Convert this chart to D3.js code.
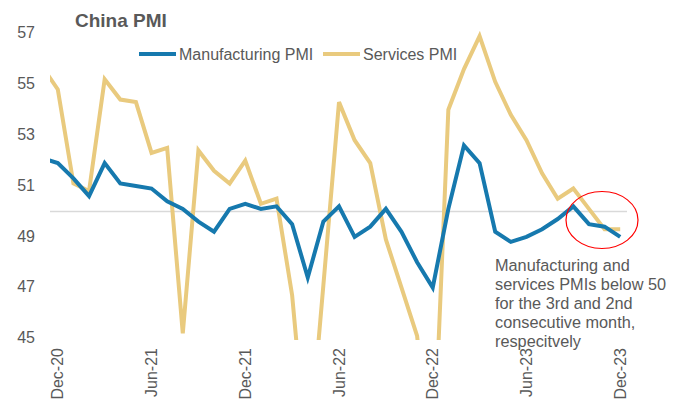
<!DOCTYPE html>
<html>
<head>
<meta charset="utf-8">
<script src="https://cdn.jsdelivr.net/npm/d3@7"></script>
<style>
  html, body { margin: 0; padding: 0; background: #fff; }
  svg { display: block; font-family: "Liberation Sans", Arial, sans-serif; }
</style>
</head>
<body>
<svg id="chart" width="683" height="402"></svg>
<script>
const months = ["Nov-20","Dec-20","Jan-21","Feb-21","Mar-21","Apr-21","May-21","Jun-21","Jul-21","Aug-21","Sep-21","Oct-21","Nov-21","Dec-21",
  "Jan-22","Feb-22","Mar-22","Apr-22","May-22","Jun-22","Jul-22","Aug-22","Sep-22","Oct-22","Nov-22","Dec-22",
  "Jan-23","Feb-23","Mar-23","Apr-23","May-23","Jun-23","Jul-23","Aug-23","Sep-23","Oct-23","Nov-23","Dec-23"];
const manufacturing = [52.1,51.9,51.3,50.6,51.9,51.1,51.0,50.9,50.4,50.1,49.6,49.2,50.1,50.3,
  50.1,50.2,49.5,47.4,49.6,50.2,49.0,49.4,50.1,49.2,48.0,47.0,
  50.1,52.6,51.9,49.2,48.8,49.0,49.3,49.7,50.2,49.5,49.4,49.0];
const services = [55.7,54.8,51.1,50.8,55.2,54.4,54.3,52.3,52.5,45.2,52.4,51.6,51.1,52.0,
  50.3,50.5,46.7,40.0,47.1,54.3,52.8,51.9,48.9,47.0,45.1,39.4,
  54.0,55.6,56.9,55.1,53.8,52.8,51.5,50.5,50.9,50.1,49.3,49.3];
const xTickLabels = ["Dec-20","Jun-21","Dec-21","Jun-22","Dec-22","Jun-23","Dec-23"];
const yTicks = [45,47,49,51,53,55,57];
const seriesNames = ["Manufacturing PMI","Services PMI"];
const seriesColors = ["#1679AE","#E9CA7E"];
const titleText = "China PMI";
const noteLines = ["Manufacturing and","services PMIs below 50","for the 3rd and 2nd","consecutive month,","respecitvely"];

(function () {
const svg = d3.select("#chart");
const pLeft = 50, pRight = 628, pTop = 33.5, pBottom = 338.5;
const x = d3.scaleLinear().domain([0.5, months.length - 0.5]).range([pLeft, pRight]);
const y = d3.scaleLinear().domain([45, 57]).range([pBottom, pTop]);
const txt = "#595959";

svg.append("defs").append("clipPath").attr("id","plotclip")
  .append("rect").attr("x", pLeft).attr("y", 0).attr("width", pRight - pLeft).attr("height", 340);

// 50 reference line
svg.append("line").attr("x1", pLeft).attr("x2", pRight - 1).attr("y1", y(50)).attr("y2", y(50))
  .attr("stroke", "#D9D9D9").attr("stroke-width", 1.5);

// y labels
svg.append("g").selectAll("text").data(yTicks).join("text")
  .attr("x", 35).attr("y", d => y(d)).attr("dy", "0.3em").attr("text-anchor", "end")
  .attr("font-size", 16).attr("fill", txt).text(d => d);

// x labels
svg.append("g").selectAll("text").data(xTickLabels).join("text")
  .attr("transform", d => `translate(${x(months.indexOf(d))},348) rotate(-90)`)
  .attr("dy", "0.35em").attr("text-anchor", "end")
  .attr("font-size", 16).attr("fill", txt).text(d => d);

// lines
const line = d3.line().x((d, i) => x(i)).y(d => y(d));
const plot = svg.append("g").attr("clip-path", "url(#plotclip)");
[services, manufacturing].forEach((s, k) => {
  const idx = k === 0 ? 1 : 0;
  plot.append("path").datum(s).attr("d", line).attr("fill", "none")
    .attr("stroke", seriesColors[idx]).attr("stroke-width", 4)
    .attr("stroke-linejoin", "miter").attr("stroke-linecap", "butt");
});

// title
svg.append("text").attr("x", 75).attr("y", 27).attr("font-size", 19).attr("font-weight", "bold")
  .attr("fill", txt).text(titleText);

// legend
const legendX = [139, 323];
seriesNames.forEach((n, i) => {
  svg.append("line").attr("x1", legendX[i]).attr("x2", legendX[i] + 37).attr("y1", 54).attr("y2", 54)
    .attr("stroke", seriesColors[i]).attr("stroke-width", 4);
  svg.append("text").attr("x", legendX[i] + 40).attr("y", 54).attr("dy", "0.35em")
    .attr("font-size", 16).attr("fill", txt).text(n);
});

// annotation circle
svg.append("ellipse").attr("cx", 602).attr("cy", 220).attr("rx", 36).attr("ry", 28.5)
  .attr("fill", "none").attr("stroke", "#FF0000").attr("stroke-width", 1.2);

// note
svg.append("g").selectAll("text").data(noteLines).join("text")
  .attr("x", 495).attr("y", (d, i) => 271 + i * 19)
  .attr("font-size", 16.3).attr("fill", txt).text(d => d);
})();
</script>
</body>
</html>
